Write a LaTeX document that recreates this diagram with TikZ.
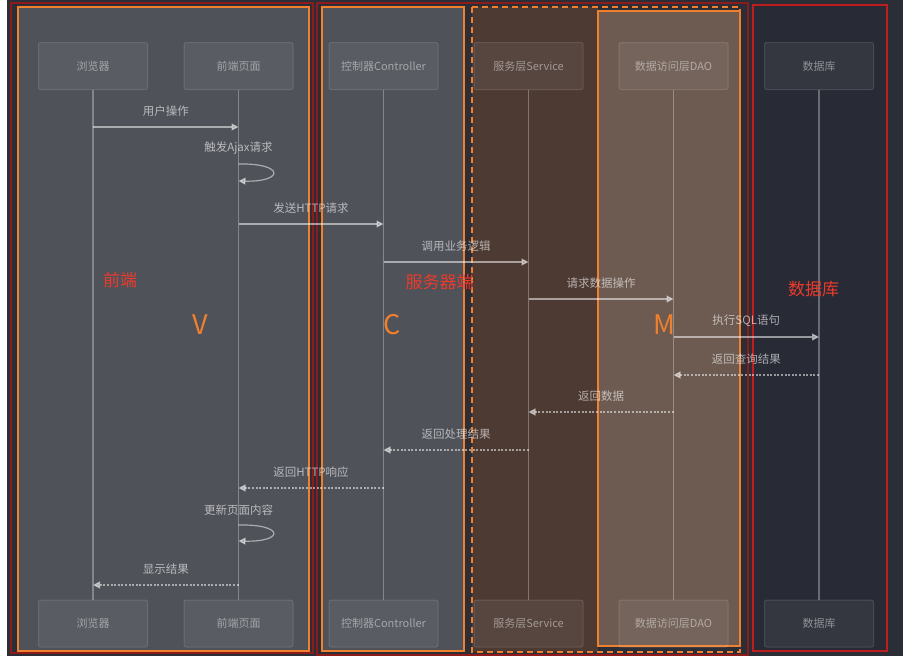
\documentclass[tikz,border=0pt]{standalone}
\usepackage{fontspec}
\setmainfont{Noto Sans CJK SC}
\usetikzlibrary{arrows.meta,positioning,calc}
\definecolor{bgDark}{RGB}{43,46,55}
\definecolor{panelGray}{RGB}{79,82,89}
\definecolor{svcBrown}{RGB}{77,58,51}
\definecolor{daoBrown}{RGB}{109,91,81}
\definecolor{dbDark}{RGB}{40,43,53}
\definecolor{hiOrange}{RGB}{240,128,46}
\definecolor{frameRed}{RGB}{140,28,28}
\definecolor{dbRed}{RGB}{190,30,30}
\definecolor{tagRed}{RGB}{236,58,44}
\tikzset{
  life box/.style={draw=white,draw opacity=.12,fill=white,fill opacity=.06,text=white,text opacity=.45,rounded corners=2pt,line width=1pt,minimum width=109pt,minimum height=47pt,inner sep=0pt,font=\fontsize{11}{13}\selectfont},
  lifeline/.style={draw=white,draw opacity=.3,line width=1.1pt},
  call arrow/.style={-{Triangle[length=7pt,width=7pt]},draw=white,opacity=.52,line width=1.2pt},
  back arrow/.style={call arrow,dash pattern=on 2pt off 1.6pt},
  msg label/.style={text=white,text opacity=.6,font=\fontsize{11.5}{13}\selectfont,inner sep=0pt},
  layer tag/.style={text=hiOrange,font=\fontsize{27}{30}\selectfont,inner sep=0pt},
  side tag/.style={text=tagRed,font=\fontsize{17}{19}\selectfont,inner sep=0pt}
}
\begin{document}
\begin{tikzpicture}[x=1pt,y=-1pt]
  \useasboundingbox (0,0) rectangle (903,656);
  \fill[white] (0,0) rectangle (903,656);
  \fill[bgDark] (7,0) rectangle (903,656);
  % panels
  \fill[panelGray] (18,7) rectangle (309,651);
  \fill[panelGray] (322,7) rectangle (464,651);
  \fill[svcBrown] (472,7) rectangle (598,652);
  \fill[daoBrown] (598,11) rectangle (740,646);
  \fill[dbDark] (753,5) rectangle (887,651);
  \draw[frameRed,line width=1.6pt] (11,3) rectangle (313,653);
  \draw[frameRed,line width=1.6pt] (317,3) rectangle (748,655);
  \draw[dbRed,line width=1.4pt] (753,5) rectangle (887,651);
  \draw[hiOrange,line width=1.6pt] (18,7) rectangle (309,651);
  \draw[hiOrange,line width=1.6pt] (322,7) rectangle (464,651);
  \draw[hiOrange,line width=1.6pt,dash pattern=on 6pt off 4pt] (472,7) rectangle (740,652);
  \draw[hiOrange,line width=1.6pt] (598,11) rectangle (740,646);
  % lifelines
  \foreach \nm/\xx/\txt in {brw/93/浏览器,fe/238.5/前端页面,ctl/383.5/控制器Controller,svc/528.5/服务层Service,dao/673.5/数据访问层DAO,db/819/数据库}{
    \node[life box] (\nm-top) at (\xx,66) {\txt};
    \node[life box] (\nm-bot) at (\xx,623.5) {\txt};
    \draw[lifeline] (\nm-top) -- (\nm-bot);
  }
  % messages
  \draw[call arrow] (brw-top |- 0,127) -- (fe-top |- 0,127) node[msg label,midway,yshift=16pt] {用户操作};
  \node[msg label] (ajax) at (238.5,148.5) {触发Ajax请求};
  \draw[call arrow] (fe-top |- 0,164) .. controls +(46,-1) and +(46,1) .. (fe-top |- 0,181);
  \draw[call arrow] (fe-top |- 0,224) -- (ctl-top |- 0,224) node[msg label,midway,yshift=16pt] {发送HTTP请求};
  \draw[call arrow] (ctl-top |- 0,262) -- (svc-top |- 0,262) node[msg label,midway,yshift=16pt] {调用业务逻辑};
  \draw[call arrow] (svc-top |- 0,299) -- (dao-top |- 0,299) node[msg label,midway,yshift=16pt] {请求数据操作};
  \draw[call arrow] (dao-top |- 0,337) -- (db-top |- 0,337) node[msg label,midway,yshift=16pt] {执行SQL语句};
  \draw[back arrow] (db-top |- 0,375) -- (dao-top |- 0,375) node[msg label,midway,yshift=16pt] {返回查询结果};
  \draw[back arrow] (dao-top |- 0,412) -- (svc-top |- 0,412) node[msg label,midway,yshift=16pt] {返回数据};
  \draw[back arrow] (svc-top |- 0,450) -- (ctl-top |- 0,450) node[msg label,midway,yshift=16pt] {返回处理结果};
  \draw[back arrow] (ctl-top |- 0,488) -- (fe-top |- 0,488) node[msg label,midway,yshift=16pt] {返回HTTP响应};
  \node[msg label] (refresh) at (238.5,510) {更新页面内容};
  \draw[call arrow] (fe-top |- 0,525) .. controls +(46,-1) and +(46,1) .. (fe-top |- 0,541);
  \draw[back arrow] (fe-top |- 0,585) -- (brw-top |- 0,585) node[msg label,midway,yshift=16pt] {显示结果};
  % layer tags
  \node[side tag] (tagFront) at (120,280) {前端};
  \node[side tag] (tagServer) at (439.5,282) {服务器端};
  \node[side tag] (tagDb) at (813.5,289.5) {数据库};
  \node[layer tag] (tagV) at (200,325) {V};
  \node[layer tag] (tagC) at (392,325) {C};
  \node[layer tag] (tagM) at (664,325) {M};
\end{tikzpicture}
\end{document}
